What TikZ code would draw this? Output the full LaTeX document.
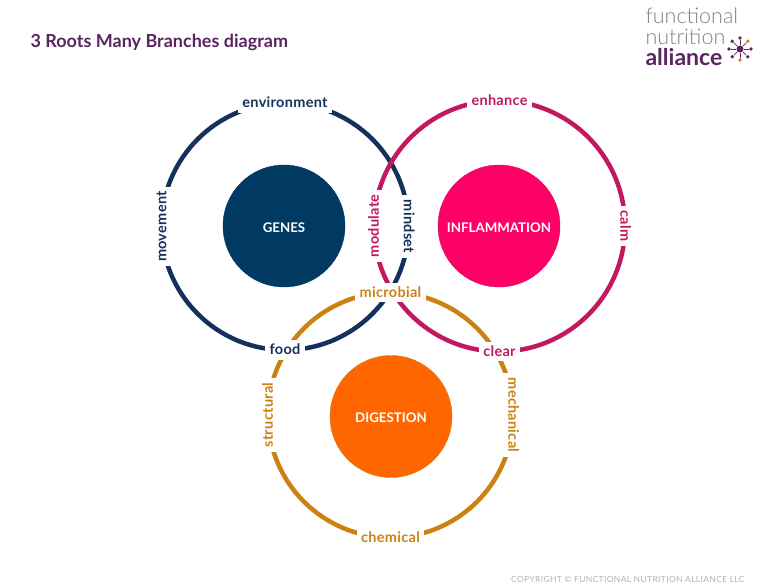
\documentclass[tikz,border=0pt]{standalone}
\usepackage{fontspec}
\setmainfont{Lato}
\newfontfamily\logofont{Lato Light}
\usepackage{xcolor}
\usetikzlibrary{calc}
\definecolor{navyroot}{HTML}{14305C}
\definecolor{genesfill}{HTML}{003A63}
\definecolor{pinkring}{HTML}{C2185F}
\definecolor{pinkroot}{HTML}{FF0066}
\definecolor{goldring}{HTML}{CC8211}
\definecolor{orangeroot}{HTML}{FF6600}
\definecolor{titlepurple}{HTML}{5A2560}
\definecolor{logogray}{HTML}{85807F}
\tikzset{
  ring/.style={circle, draw=#1, line width=4.5pt, inner sep=0pt, outer sep=0pt},
  rootdisc/.style={circle, fill=#1, minimum size=122pt, inner sep=0pt, text=white, text height=12.5pt, text depth=0pt, font=\fontsize{13.3}{15}\selectfont\bfseries},
  ringlabel/.style={fill=white, text=#1, font=\fontsize{14.5}{16}\selectfont\bfseries\addfontfeature{LetterSpace=2}, inner xsep=4.5pt, inner ysep=4.5pt, text height=10pt, text depth=0.5pt},
  logoline/.style={anchor=west, text=logogray, font=\logofont\fontsize{21.5}{23}\selectfont},
}
\begin{document}
\begin{tikzpicture}[x=1pt, y=-1pt]
  \useasboundingbox (0,0) rectangle (768,588);

  % rings
  \node[ring=navyroot, minimum size=247pt] (genesring) at (285,226.5) {};
  \node[ring=pinkring, minimum size=251pt] (inflamring) at (499.5,226) {};
  \node[ring=goldring, minimum size=245pt] (digestring) at (390.5,415) {};

  % roots
  \node[rootdisc=genesfill, draw=genesfill] (genes) at (284,226) {GENES};
  \node[rootdisc=pinkroot, draw=pinkring!80!pinkroot] (inflam) at (499,226) {INFLAMMATION};
  \node[rootdisc=orangeroot, draw=goldring] (digest) at (391,416.5) {DIGESTION};

  % branches
  \node[ringlabel=navyroot] (environment) at (genesring.90) {environment};
  \node[ringlabel=navyroot, rotate=90] (movement) at (genesring.180) {movement};
  \node[ringlabel=navyroot, rotate=-90] (mindset) at (genesring.0) {mindset};
  \node[ringlabel=navyroot] (food) at (genesring.270) {food};

  \node[ringlabel=pinkring] (enhance) at (inflamring.90) {enhance};
  \node[ringlabel=pinkring, rotate=90] (modulate) at (inflamring.180) {modulate};
  \node[ringlabel=pinkring, rotate=-90] (calm) at (inflamring.0) {calm};
  \node[ringlabel=pinkring] (clear) at (inflamring.270) {clear};

  \node[ringlabel=goldring] (microbial) at (digestring.90) {microbial};
  \node[ringlabel=goldring, rotate=90] (structural) at (digestring.180) {structural};
  \node[ringlabel=goldring, rotate=-90] (mechanical) at (digestring.0) {mechanical};
  \node[ringlabel=goldring] (chemical) at (digestring.270) {chemical};

  % heading and logo
  \node[anchor=west, text=titlepurple, font=\fontsize{18}{20}\selectfont\bfseries] (heading) at (27,42) {3 Roots Many Branches diagram};
  \node[logoline] (logoa) at (642,16) {functional};
  \node[logoline] (logob) at (642,37) {nutrition};
  \node[anchor=west, text=titlepurple, font=\fontsize{23}{25}\selectfont\bfseries] (logoc) at (642,57) {alliance};

  % logo star
  \node[circle, fill=titlepurple, minimum size=7pt, inner sep=0pt] (hub) at (740,49) {};
  \foreach \ang/\col in {0/titlepurple, 45/goldring, 90/titlepurple, 135/titlepurple, 180/titlepurple, 225/titlepurple, 270/goldring, 315/titlepurple} {
    \node[circle, fill=\col, minimum size=3.6pt, inner sep=0pt] (tip\ang) at ($(hub)+(\ang:11pt)$) {};
    \draw[titlepurple!70!pinkring, line width=0.7pt] (hub) -- (tip\ang);
  }

  \node[anchor=east, text=black!30, font=\fontsize{8.5}{10}\selectfont\addfontfeature{LetterSpace=4}] (copyright) at (748,579) {COPYRIGHT © FUNCTIONAL NUTRITION ALLIANCE LLC};
\end{tikzpicture}
\end{document}
